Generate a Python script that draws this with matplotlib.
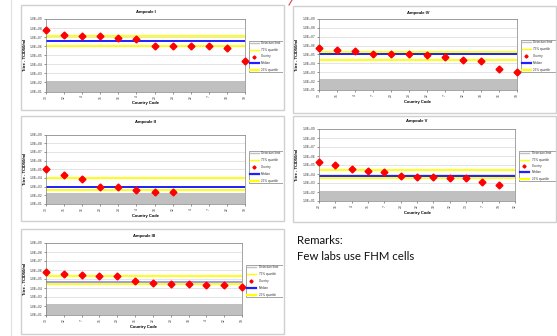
import matplotlib
matplotlib.use("Agg")
import matplotlib.pyplot as plt
from matplotlib.patches import Rectangle
from matplotlib.lines import Line2D

# ---------------- data ----------------
ytick_vals = [1e1, 1e2, 1e3, 1e4, 1e5, 1e6, 1e7, 1e8, 1e9]
ytick_labels = ["1.0E+01", "1.0E+02", "1.0E+03", "1.0E+04", "1.0E+05",
                "1.0E+06", "1.0E+07", "1.0E+08", "1.0E+09"]
legend_labels = ["Detection limit", "75% quartile", "Country", "Median", "25% quartile"]

codes_I = ["13", "12", "4", "15", "16", "4", "20", "23", "22", "7", "18", "19"]
titre_I = [6.3e7, 1.9e7, 1.35e7, 1.35e7, 8.7e6, 5.8e6, 1.0e6, 1.0e6, 1.0e6, 1.0e6, 5.6e5, 2.3e4]
q75_I, med_I, q25_I, det_I = 1.25e7, 3.7e6, 1.0e6, 1.4e2

codes_IV = ["13", "15", "4", "7", "20", "23", "22", "7", "12", "18", "16", "19"]
titre_IV = [5.6e5, 3.6e5, 2.6e5, 1.2e5, 1.2e5, 1.2e5, 7.8e4, 5.5e4, 2.5e4, 1.8e4, 2.5e3, 1.2e3]
q75_IV, med_IV, q25_IV, det_IV = 1.8e5, 1.0e5, 2.3e4, 1.7e2

codes_II = ["13", "15", "16", "20", "23", "4", "18", "12", "4", "7", "22", "19"]
titre_II = [1.1e5, 2.4e4, 7.6e3, 1.0e3, 1.0e3, 4.5e2, 2.2e2, 2.2e2]
q75_II, med_II, q25_II, det_II = 1.0e4, 1.0e3, 4.2e2, 1.7e2

codes_V = ["20", "16", "4", "15", "7", "23", "22", "18", "12", "13", "7", "19", "12"]
titre_V = [2.2e5, 1.0e5, 3.2e4, 2.0e4, 1.5e4, 6.8e3, 4.5e3, 4.5e3, 3.2e3, 3.2e3, 1.35e3, 6.3e2]
q75_V, med_V, q25_V, det_V = 2.5e4, 6.8e3, 3.5e3, 1.4e2

codes_III = ["13", "12", "7", "15", "20", "16", "22", "23", "18", "4", "12", "19"]
titre_III = [5.5e5, 3.9e5, 2.8e5, 2.0e5, 2.0e5, 6.0e4, 3.9e4, 2.8e4, 2.8e4, 2.0e4, 2.0e4, 1.3e4]
q75_III, med_III, q25_III, det_III = 2.1e5, 4.7e4, 2.8e4, 1.8e2

remarks = ["Remarks:", "Few labs use FHM cells"]

# ---------------- figure ----------------
W, H = 557, 336
fig = plt.figure(figsize=(W / 100, H / 100), dpi=100)
fig.patch.set_facecolor("white")
plt.rcParams["font.family"] = ["Liberation Sans", "DejaVu Sans"]

YEL = "#FFFF00"
BLU = "#1F1FFF"
GRAY = "#C0C0C0"
RED = "#FF0000"
FS = 2.4


def px_axes(x0, y0, x1, y1):
    return fig.add_axes([x0 / W, 1 - y1 / H, (x1 - x0) / W, (y1 - y0) / H])


def box(x0, y0, x1, y1):
    fig.patches.append(Rectangle((x0 / W, 1 - y1 / H), (x1 - x0) / W, (y1 - y0) / H,
                                 transform=fig.transFigure, fill=False,
                                 edgecolor="#D0D0D0", lw=1.0))


def panel(bx, plot, leg, title, codes, titre, q75, med, q25, det, title_y, ylabel_x,
          med_color=BLU):
    box(*bx)
    ax = px_axes(*plot)
    n = len(codes)
    ax.set_yscale("log")
    ax.set_ylim(1e1, 1e9)
    ax.set_xlim(0, n - 1)
    ax.axhspan(1e1, det, color=GRAY, lw=0, zorder=1)
    ax.axhline(q75, color=YEL, lw=1.3, zorder=2)
    ax.axhline(q25, color=YEL, lw=1.3, zorder=2)
    ax.axhline(med, color=med_color, lw=1.4, zorder=2)
    ax.plot(range(len(titre)), titre, ls="none", marker="D", ms=3.5,
            color=RED, mec=RED, zorder=3, clip_on=False)
    ax.set_yticks(ytick_vals)
    ax.set_yticklabels(ytick_labels, fontsize=FS)
    ax.yaxis.set_minor_locator(matplotlib.ticker.NullLocator())
    ax.set_xticks(range(n))
    ax.set_xticklabels(codes, rotation=90, fontsize=FS)
    ax.tick_params(length=1.2, width=0.4, pad=1.5, colors="#404040")
    ax.grid(axis="y", color="#D9D9D9", lw=0.5)
    ax.set_axisbelow(True)
    for s in ax.spines.values():
        s.set_color("#808080")
        s.set_linewidth(0.5)
    ax.set_xlabel("Country Code", fontsize=3.0, fontweight="bold", labelpad=1.5)
    fig.text((plot[0] + plot[2]) / 2 / W, 1 - title_y / H, title, fontsize=3.0,
             fontweight="bold", ha="center", va="center")
    fig.text(ylabel_x / W, 1 - (plot[1] + plot[3]) / 2 / H, "Titre - TCID50/ml",
             fontsize=3.0, fontweight="bold", rotation=90, ha="center", va="center")

    # legend
    lx = px_axes(*leg)
    lx.set_xlim(0, 1)
    lx.set_ylim(0, 1)
    lx.axis("off")
    lx.add_patch(Rectangle((0.02, 0.02), 1.5, 0.96, fill=False, edgecolor="#808080",
                           lw=0.5, clip_on=True))
    styles = [dict(color=GRAY, lw=1.0), dict(color=YEL, lw=1.0), None,
              dict(color=BLU, lw=1.6), dict(color=YEL, lw=1.6)]
    nrow = len(legend_labels)
    for i, (lab, st) in enumerate(zip(legend_labels, styles)):
        yy = 1 - (i + 0.5) / nrow
        if st is None:
            lx.plot([0.17], [yy], marker="D", ms=1.6, color=RED, ls="none")
        else:
            lx.add_line(Line2D([0.05, 0.30], [yy, yy], **st))
        lx.text(0.36, yy, lab, fontsize=2.2, va="center", ha="left", clip_on=True,
                color="#333333")


panel((21, 5, 284, 110), (46, 19, 245, 91.5), (248, 40, 283, 73), "Ampoule I",
      codes_I, titre_I, q75_I, med_I, q25_I, det_I, 12, 25)
panel((293, 6, 556, 113), (319, 19, 517, 90), (520, 39, 556, 73), "Ampoule IV",
      codes_IV, titre_IV, q75_IV, med_IV, q25_IV, det_IV, 13, 297)
panel((21, 116, 284, 221), (46, 134.5, 245, 204), (248, 150, 283, 184), "Ampoule II",
      codes_II, titre_II, q75_II, med_II, q25_II, det_II, 122, 25)
panel((293, 116, 556, 222), (319, 129, 515, 201), (518, 150, 556, 182), "Ampoule V",
      codes_V, titre_V, q75_V, med_V, q25_V, det_V, 121, 297)
panel((21, 229, 284, 334), (46, 243, 242, 315), (245, 264, 283, 298), "Ampoule III",
      codes_III, titre_III, q75_III, med_III, q25_III, det_III, 236, 25,
      med_color="#9999FF")

# left page line
fig.add_artist(Line2D([11 / W, 11 / W], [0, 1], transform=fig.transFigure,
                      color="#E0E0E0", lw=0.8))
# small red stroke at top
fig.add_artist(Line2D([289 / W, 292 / W], [1 - 5 / H, 1 - 0 / H], transform=fig.transFigure,
                      color="#E04040", lw=0.8))

fig.text(297 / W, 1 - 241 / H, remarks[0], fontsize=8.2, family=["Lato", "DejaVu Sans"],
         va="center", ha="left", color="#111111")
fig.text(297 / W, 1 - 256 / H, remarks[1], fontsize=8.2,
         family=["Lato", "DejaVu Sans"], va="center", ha="left", color="#111111")

fig.savefig("out.png", dpi=100, facecolor="white")
